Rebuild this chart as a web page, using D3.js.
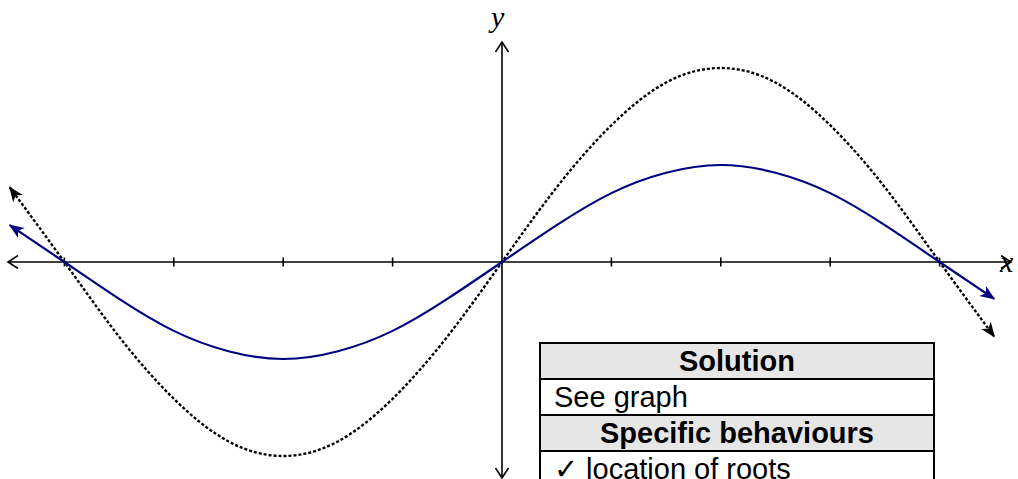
<!DOCTYPE html>
<html>
<head>
<meta charset="utf-8">
<script src="https://cdn.jsdelivr.net/npm/d3@7"></script>
<style>
  body { margin: 0; background: #fff; }
  svg { display: block; }
</style>
</head>
<body>
<svg id="mainsvg" width="1018" height="479"></svg>
<script>
// x positions in units of pi/4 (one tick each)
const xTicks = [-4, -3, -2, -1, 1, 2, 3, 4];
const xs = [-4.5, -4, -3.5, -3, -2.5, -2, -1.5, -1, -0.5, 0, 0.5, 1, 1.5, 2, 2.5, 3, 3.5, 4, 4.5];
// solid blue curve
const blueY = [0.38, 0, -0.38, -0.71, -0.92, -1, -0.92, -0.71, -0.38, 0, 0.38, 0.71, 0.92, 1, 0.92, 0.71, 0.38, 0, -0.38];
// dotted black curve
const dotY = [0.77, 0, -0.77, -1.41, -1.85, -2, -1.85, -1.41, -0.77, 0, 0.77, 1.41, 1.85, 2, 1.85, 1.41, 0.77, 0, -0.77];
const tableRows = [
  {text: 'Solution', head: true},
  {text: 'See graph', head: false},
  {text: 'Specific behaviours', head: true},
  {text: '\u2713 location of roots', head: false}
];

const svg = d3.select('#mainsvg');

const xScale = d3.scaleLinear().domain([0, 1]).range([502, 611.4]);
const yScale = d3.scaleLinear().domain([0, 1]).range([262, 165]);

// markers
const defs = svg.append('defs');
defs.append('marker')
  .attr('id', 'openArrow')
  .attr('viewBox', '-12 -7 14 14')
  .attr('markerWidth', 14).attr('markerHeight', 14)
  .attr('markerUnits', 'userSpaceOnUse')
  .attr('refX', 0).attr('refY', 0)
  .attr('orient', 'auto-start-reverse')
  .append('path')
  .attr('d', 'M-10,-6.5 L0,0 L-10,6.5')
  .attr('fill', 'none').attr('stroke', '#000').attr('stroke-width', 1.6);

[['arrBlue', '#000080'], ['arrBlack', '#000']].forEach(([id, c]) => {
  defs.append('marker')
    .attr('id', id)
    .attr('viewBox', '-15 -7 17 14')
    .attr('markerWidth', 17).attr('markerHeight', 14)
    .attr('markerUnits', 'userSpaceOnUse')
    .attr('refX', 0).attr('refY', 0)
    .attr('orient', 'auto-start-reverse')
    .append('path')
    .attr('d', 'M1,0 L-14,-6 L-10,0 L-14,6 Z')
    .attr('fill', c);
});

// x axis
svg.append('line')
  .attr('x1', 8).attr('x2', 1011)
  .attr('y1', yScale(0)).attr('y2', yScale(0))
  .attr('stroke', '#000').attr('stroke-width', 1.6)
  .attr('marker-start', 'url(#openArrow)')
  .attr('marker-end', 'url(#openArrow)');

svg.selectAll('.tick')
  .data(xTicks)
  .join('line')
  .attr('class', 'tick')
  .attr('x1', d => xScale(d)).attr('x2', d => xScale(d))
  .attr('y1', yScale(0) - 4.5).attr('y2', yScale(0) + 4.5)
  .attr('stroke', '#000').attr('stroke-width', 1.6);

// y axis
svg.append('line')
  .attr('x1', xScale(0)).attr('x2', xScale(0))
  .attr('y1', 478).attr('y2', 42)
  .attr('stroke', '#000').attr('stroke-width', 1.6)
  .attr('marker-start', 'url(#openArrow)')
  .attr('marker-end', 'url(#openArrow)');

svg.append('text')
  .attr('x', 1000).attr('y', 272)
  .style('font-family', '"Liberation Serif", serif')
  .style('font-style', 'italic')
  .style('font-size', '30px')
  .text('x');

svg.append('text')
  .attr('x', 491).attr('y', 27)
  .style('font-family', '"Liberation Serif", serif')
  .style('font-style', 'italic')
  .style('font-size', '30px')
  .text('y');

const line = d3.line()
  .x(d => xScale(d[0]))
  .y(d => yScale(d[1]))
  .curve(d3.curveNatural);

svg.append('path')
  .attr('d', line(xs.map((x, i) => [x, dotY[i]])))
  .attr('fill', 'none')
  .attr('stroke', '#000').attr('stroke-width', 2.4)
  .attr('stroke-dasharray', '3,2')
  .attr('marker-start', 'url(#arrBlack)')
  .attr('marker-end', 'url(#arrBlack)');

svg.append('path')
  .attr('d', line(xs.map((x, i) => [x, blueY[i]])))
  .attr('fill', 'none')
  .attr('stroke', '#000080').attr('stroke-width', 2.2)
  .attr('marker-start', 'url(#arrBlue)')
  .attr('marker-end', 'url(#arrBlue)');

// solution table
const tbl = {x: 540, y: 343, w: 394, h: 36};
const rows = svg.append('g');
rows.selectAll('rect')
  .data(tableRows)
  .join('rect')
  .attr('x', tbl.x).attr('y', (d, i) => tbl.y + i * tbl.h)
  .attr('width', tbl.w).attr('height', tbl.h)
  .attr('fill', d => d.head ? '#e6e6e6' : '#fff')
  .attr('stroke', '#000').attr('stroke-width', 2);

rows.selectAll('text')
  .data(tableRows)
  .join('text')
  .attr('x', d => d.head ? tbl.x + tbl.w / 2 : tbl.x + 14)
  .attr('y', (d, i) => tbl.y + i * tbl.h + 28)
  .attr('text-anchor', d => d.head ? 'middle' : 'start')
  .style('font-family', '"Liberation Sans", Arial, sans-serif')
  .style('font-size', '29px')
  .style('font-weight', d => d.head ? 'bold' : 'normal')
  .text(d => d.text);
</script>
</body>
</html>
